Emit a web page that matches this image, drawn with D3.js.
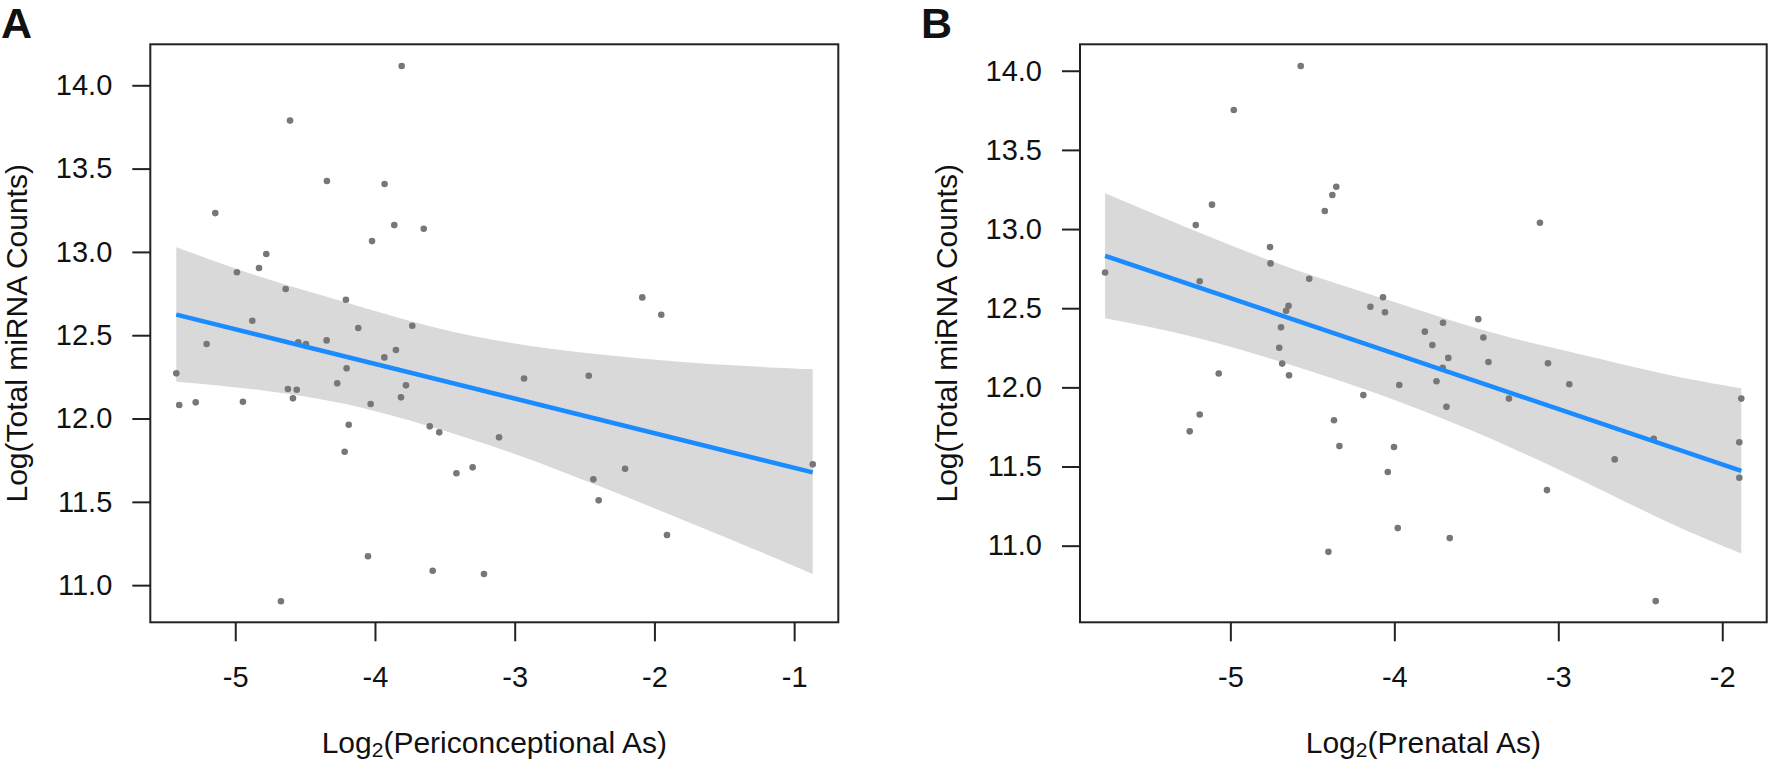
<!DOCTYPE html>
<html>
<head>
<meta charset="utf-8">
<script src="https://cdn.jsdelivr.net/npm/d3@7"></script>
<style>
  html, body { margin: 0; padding: 0; background: #fff; }
  svg { display: block; }
  text { font-family: "Liberation Sans", Arial, Helvetica, sans-serif; fill: #111; }
</style>
</head>
<body>
<svg id="chart" width="1771" height="763"></svg>
<script>
// ---------- Data ----------
// Panel A: Log2(Periconceptional As) vs Log(Total miRNA Counts)
const periconceptionalAs = [
  -3.809, -4.608, -4.344, -3.931, -5.143, -3.862, -3.651, -4.021, -4.778, -4.830,
  -4.988, -4.639, -4.208, -4.878, -4.120, -3.733, -5.205, -4.549, -4.494, -4.346,
  -3.850, -3.933, -4.203, -5.422, -4.270, -3.778, -4.623, -4.560, -4.587, -3.814,
  -5.401, -5.283, -4.945, -4.031, -4.188, -3.608, -3.540, -4.217, -3.417, -4.050,
  -3.587, -4.673, -2.087, -1.951, -2.933, -2.470, -3.112, -3.301, -2.210, -2.437,
  -2.399, -1.910, -0.867, -3.220
];
const mirnaCountsA = [
  14.116, 13.788, 13.426, 13.408, 13.233, 13.161, 13.139, 13.065, 12.987, 12.903,
  12.878, 12.777, 12.713, 12.587, 12.543, 12.557, 12.447, 12.457, 12.447, 12.469,
  12.411, 12.367, 12.301, 12.271, 12.211, 12.199, 12.177, 12.173, 12.121, 12.127,
  12.081, 12.097, 12.101, 12.087, 11.963, 11.953, 11.917, 11.801, 11.672, 11.173,
  11.086, 10.903, 12.727, 12.623, 12.240, 12.257, 11.887, 11.707, 11.699, 11.635,
  11.509, 11.301, 11.725, 11.067
];
// Confidence band of panel A
const bandXA     = [-5.422, -4.8, -4.2, -3.6, -3.0, -2.4, -1.8, -1.2, -0.867];
const bandUpperA = [13.028, 12.837, 12.698, 12.544, 12.444, 12.384, 12.336, 12.308, 12.295];
const bandLowerA = [12.221, 12.174, 12.096, 11.953, 11.794, 11.597, 11.393, 11.187, 11.067];

// Panel B: Log2(Prenatal As) vs Log(Total miRNA Counts)
const prenatalAs = [
  -4.571, -4.979, -4.354, -4.378, -4.424, -5.112, -5.211, -4.758, -4.755, -5.764,
  -5.187, -4.519, -4.645, -4.660, -4.691, -4.702, -4.684, -5.071, -4.642, -3.112,
  -4.069, -4.146, -4.057, -3.703, -3.488, -3.814, -3.457, -3.768, -3.671, -3.426,
  -3.063, -3.743, -3.970, -2.933, -4.189, -3.301, -1.884, -3.682, -4.368, -4.335,
  -4.002, -4.040, -2.418, -2.656, -1.896, -1.896, -3.069, -3.979, -3.662, -4.402,
  -2.406, -5.248, -5.187, -3.705
];
const mirnaCountsB = [
  14.030, 13.752, 13.267, 13.215, 13.114, 13.154, 13.025, 12.886, 12.783, 12.726,
  12.670, 12.686, 12.515, 12.484, 12.379, 12.250, 12.150, 12.088, 12.076, 13.040,
  12.569, 12.509, 12.474, 12.408, 12.431, 12.352, 12.315, 12.267, 12.186, 12.160,
  12.152, 12.039, 12.015, 12.020, 11.951, 11.929, 11.929, 11.877, 11.792, 11.629,
  11.623, 11.465, 11.675, 11.545, 11.653, 11.429, 11.351, 11.111, 11.048, 10.961,
  10.650, 11.722, 11.829, 12.124
];
// Confidence band of panel B
const bandXB     = [-5.764, -5.2, -4.6, -4.0, -3.4, -2.8, -2.3, -1.884];
const bandUpperB = [13.226, 12.980, 12.732, 12.544, 12.332, 12.195, 12.067, 11.994];
const bandLowerB = [12.436, 12.323, 12.134, 11.928, 11.678, 11.385, 11.127, 10.951];

// Tick values
const yTicks = [11.0, 11.5, 12.0, 12.5, 13.0, 13.5, 14.0];
const xTicksA = [-5, -4, -3, -2, -1];
const xTicksB = [-5, -4, -3, -2];

// Labels
const panelLetters = ["A", "B"];
const xTitles = ["Periconceptional As", "Prenatal As"];
const yTitle = "Log(Total miRNA Counts)";

// ---------- Layout ----------
const panels = [
  { letter: panelLetters[0], xs: periconceptionalAs, ys: mirnaCountsA, xTicks: xTicksA, xTitle: xTitles[0],
    bandX: bandXA, bandUpper: bandUpperA, bandLower: bandLowerA,
    left: 150.3, right: 838.3, top: 44.3, bottom: 622.3,
    xDomain: [-5.608, -0.684], yDomain: [10.777, 14.246],
    letterX: 1, yTitleX: 27 },
  { letter: panelLetters[1], xs: prenatalAs, ys: mirnaCountsB, xTicks: xTicksB, xTitle: xTitles[1],
    bandX: bandXB, bandUpper: bandUpperB, bandLower: bandLowerB,
    left: 1080, right: 1766.7, top: 44.3, bottom: 622.3,
    xDomain: [-5.917, -1.729], yDomain: [10.516, 14.167],
    letterX: 921, yTitleX: 957 }
];

const svg = d3.select("#chart");

function linearFit(xs, ys) {
  const mx = d3.mean(xs), my = d3.mean(ys);
  let sxx = 0, sxy = 0;
  for (let i = 0; i < xs.length; i++) { sxx += (xs[i] - mx) ** 2; sxy += (xs[i] - mx) * (ys[i] - my); }
  const b = sxy / sxx, a = my - b * mx;
  return x => a + b * x;
}

panels.forEach(p => {
  const x = d3.scaleLinear().domain(p.xDomain).range([p.left, p.right]);
  const y = d3.scaleLinear().domain(p.yDomain).range([p.bottom, p.top]);
  const g = svg.append("g");

  // Confidence band
  g.append("path")
    .datum(p.bandX.map((v, i) => [v, p.bandLower[i], p.bandUpper[i]]))
    .attr("fill", "#d9d9d9")
    .attr("stroke", "none")
    .attr("d", d3.area()
      .curve(d3.curveBasis)
      .x(d => x(d[0]))
      .y0(d => y(d[1]))
      .y1(d => y(d[2])));

  // Points
  g.append("g").selectAll("circle")
    .data(p.xs.map((v, i) => [v, p.ys[i]]))
    .join("circle")
    .attr("cx", d => x(d[0]))
    .attr("cy", d => y(d[1]))
    .attr("r", 3.3)
    .attr("fill", "#777777");

  // Fitted (least squares) line
  const predict = linearFit(p.xs, p.ys);
  const [xmin, xmax] = d3.extent(p.xs);
  g.append("path")
    .datum([xmin, xmax])
    .attr("fill", "none")
    .attr("stroke", "#1a8cff")
    .attr("stroke-width", 4.5)
    .attr("d", d3.line().x(d => x(d)).y(d => y(predict(d))));

  // Box
  g.append("rect")
    .attr("x", p.left).attr("y", p.top)
    .attr("width", p.right - p.left).attr("height", p.bottom - p.top)
    .attr("fill", "none").attr("stroke", "#222").attr("stroke-width", 2);

  // Y axis
  const yAxis = g.append("g")
    .attr("transform", `translate(${p.left},0)`)
    .call(d3.axisLeft(y).tickValues(yTicks).tickFormat(d3.format(".1f")).tickSize(18).tickPadding(20));
  yAxis.select(".domain").remove();
  yAxis.selectAll(".tick line").attr("stroke", "#222").attr("stroke-width", 2);
  yAxis.selectAll(".tick text").attr("font-size", 29).attr("fill", "#111")
    .style("font-family", '"Liberation Sans", Arial, sans-serif');

  // X axis
  const xAxis = g.append("g")
    .attr("transform", `translate(0,${p.bottom})`)
    .call(d3.axisBottom(x).tickValues(p.xTicks).tickFormat(d => String(d)).tickSize(19).tickPadding(25));
  xAxis.select(".domain").remove();
  xAxis.selectAll(".tick line").attr("stroke", "#222").attr("stroke-width", 2);
  xAxis.selectAll(".tick text").attr("font-size", 29).attr("fill", "#111")
    .style("font-family", '"Liberation Sans", Arial, sans-serif');

  // X title with subscript
  const xt = g.append("text")
    .attr("x", (p.left + p.right) / 2)
    .attr("y", 753)
    .attr("text-anchor", "middle")
    .attr("font-size", 30);
  xt.append("tspan").text("Log");
  xt.append("tspan").attr("font-size", 21).attr("dy", 4).text("2");
  xt.append("tspan").attr("dy", -4).text("(" + p.xTitle + ")");

  // Y title
  g.append("text")
    .attr("transform", `translate(${p.yTitleX},${(p.top + p.bottom) / 2}) rotate(-90)`)
    .attr("text-anchor", "middle")
    .attr("font-size", 30)
    .text(yTitle);

  // Panel letter
  g.append("text")
    .attr("x", p.letterX)
    .attr("y", 38)
    .attr("font-size", 43)
    .attr("font-weight", "bold")
    .text(p.letter);
});
</script>
</body>
</html>
